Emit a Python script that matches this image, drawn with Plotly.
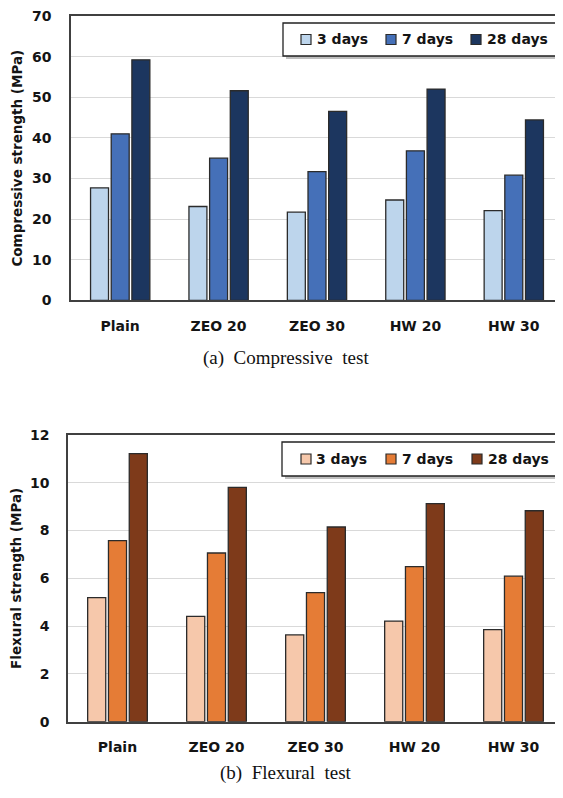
import plotly.graph_objects as go

categories = ["Plain", "ZEO 20", "ZEO 30", "HW 20", "HW 30"]
series_names = ["3 days", "7 days", "28 days"]

comp_3d = [27.7, 23.1, 21.7, 24.7, 22.1]
comp_7d = [41.0, 35.0, 31.7, 36.8, 30.8]
comp_28d = [59.2, 51.6, 46.5, 52.0, 44.4]

flex_3d = [5.19, 4.41, 3.63, 4.21, 3.85]
flex_7d = [7.58, 7.06, 5.40, 6.49, 6.09]
flex_28d = [11.22, 9.81, 8.15, 9.13, 8.83]

comp_colors = ["#BDD5EC", "#4570B8", "#1C365F"]
flex_colors = ["#F6C8AB", "#E57C36", "#7E3A1A"]

# page has an 8px body margin; the figure fills the visible part of the window
OFF = 8
W, H = 563 - OFF, 798 - OFF
FONT = "DejaVu Sans"
TXT = "#141414"
EDGE = "#2b2b2b"


def X(px):
    return (px - OFF) / W


def Y(py):
    return 1 - (py - OFF) / H


fig = go.Figure()

for name, vals, col in zip(series_names, [comp_3d, comp_7d, comp_28d], comp_colors):
    fig.add_trace(go.Bar(x=categories, y=vals, name=name, showlegend=False,
                         marker=dict(color=col, line=dict(color=EDGE, width=1.3)),
                         xaxis="x", yaxis="y"))
for name, vals, col in zip(series_names, [flex_3d, flex_7d, flex_28d], flex_colors):
    fig.add_trace(go.Bar(x=categories, y=vals, name=name, showlegend=False,
                         marker=dict(color=col, line=dict(color=EDGE, width=1.3)),
                         xaxis="x2", yaxis="y2"))

tickfont = dict(family=FONT, size=14, color=TXT, weight="bold")


def xax(left_px, anchor):
    return dict(domain=[X(left_px), 1], anchor=anchor, tickfont=tickfont, ticklabelstandoff=12,
                showline=True, linecolor="#404040", linewidth=1.5, mirror=True, ticks="",
                showgrid=False, automargin=False, fixedrange=True)


def yax(top_px, bot_px, anchor, rng, dt, title, standoff, lab_standoff):
    return dict(domain=[Y(bot_px), Y(top_px)], anchor=anchor, range=rng, dtick=dt,
                showline=True, linecolor="#404040", linewidth=1.5, mirror=True, ticks="",
                showgrid=True, gridcolor="#d9d9d9", gridwidth=1.2, tickfont=tickfont,
                ticklabelstandoff=lab_standoff, ticklabeloverflow="allow",
                automargin=False, fixedrange=True,
                title=dict(text=title, font=dict(family=FONT, size=13.5, weight="bold", color=TXT),
                           standoff=standoff))


shapes = []
annotations = []


def legend(box, sq_y, text_y, items, colors):
    x0, y0, x1, y1 = box
    shapes.append(dict(type="rect", xref="paper", yref="paper", x0=X(x0 + 3), x1=X(x1 + 3),
                       y0=Y(y1 + 3), y1=Y(y0 + 3), fillcolor="#a8a8a8", line=dict(width=0),
                       layer="above", opacity=0.75))
    shapes.append(dict(type="rect", xref="paper", yref="paper", x0=X(x0), x1=X(x1),
                       y0=Y(y1), y1=Y(y0), fillcolor="white", line=dict(color="#222", width=1.3),
                       layer="above"))
    for (sqx, tx), name, col in zip(items, series_names, colors):
        shapes.append(dict(type="rect", xref="paper", yref="paper", x0=X(sqx), x1=X(sqx + 10),
                           y0=Y(sq_y + 10), y1=Y(sq_y), fillcolor=col,
                           line=dict(color=EDGE, width=1.2), layer="above"))
        annotations.append(dict(text=name, x=X(tx), y=Y(text_y), xref="paper", yref="paper",
                                xanchor="left", yanchor="middle", showarrow=False,
                                font=dict(family=FONT, size=14, weight="bold", color=TXT)))


legend((283, 23, 559, 56), 34.5, 39.5, [(301, 315), (386, 400), (471, 485)], comp_colors)
legend((282, 442, 560, 476), 454, 459, [(301, 314), (386, 400), (472, 486)], flex_colors)

annotations.append(dict(text="(a)&nbsp; Compressive&nbsp; test", x=X(286), y=Y(358), xref="paper", yref="paper",
                        showarrow=False, font=dict(family="Liberation Serif", size=19, color="#111")))
annotations.append(dict(text="(b)&nbsp; Flexural&nbsp; test", x=X(286), y=Y(786), xref="paper", yref="paper",
                        showarrow=False, font=dict(family="Liberation Serif", size=19, color="#111")))

fig.update_layout(
    width=W, height=H,
    margin=dict(l=0, r=0, t=0, b=0, autoexpand=False),
    paper_bgcolor="white", plot_bgcolor="white",
    barmode="group", bargap=0.37, bargroupgap=0.13,
    font=dict(family=FONT, color=TXT),
    showlegend=False,
    xaxis=xax(71, "y"),
    yaxis=yax(16, 300.3, "x", [0, 70], 10, "Compressive strength (MPa)", 6, 15),
    xaxis2=xax(68, "y2"),
    yaxis2=yax(435, 721.7, "x2", [0, 12], 2, "Flexural strength (MPa)", 6, 14),
    shapes=shapes,
    annotations=annotations,
)

fig.write_html("out.html", config={"displayModeBar": False})
